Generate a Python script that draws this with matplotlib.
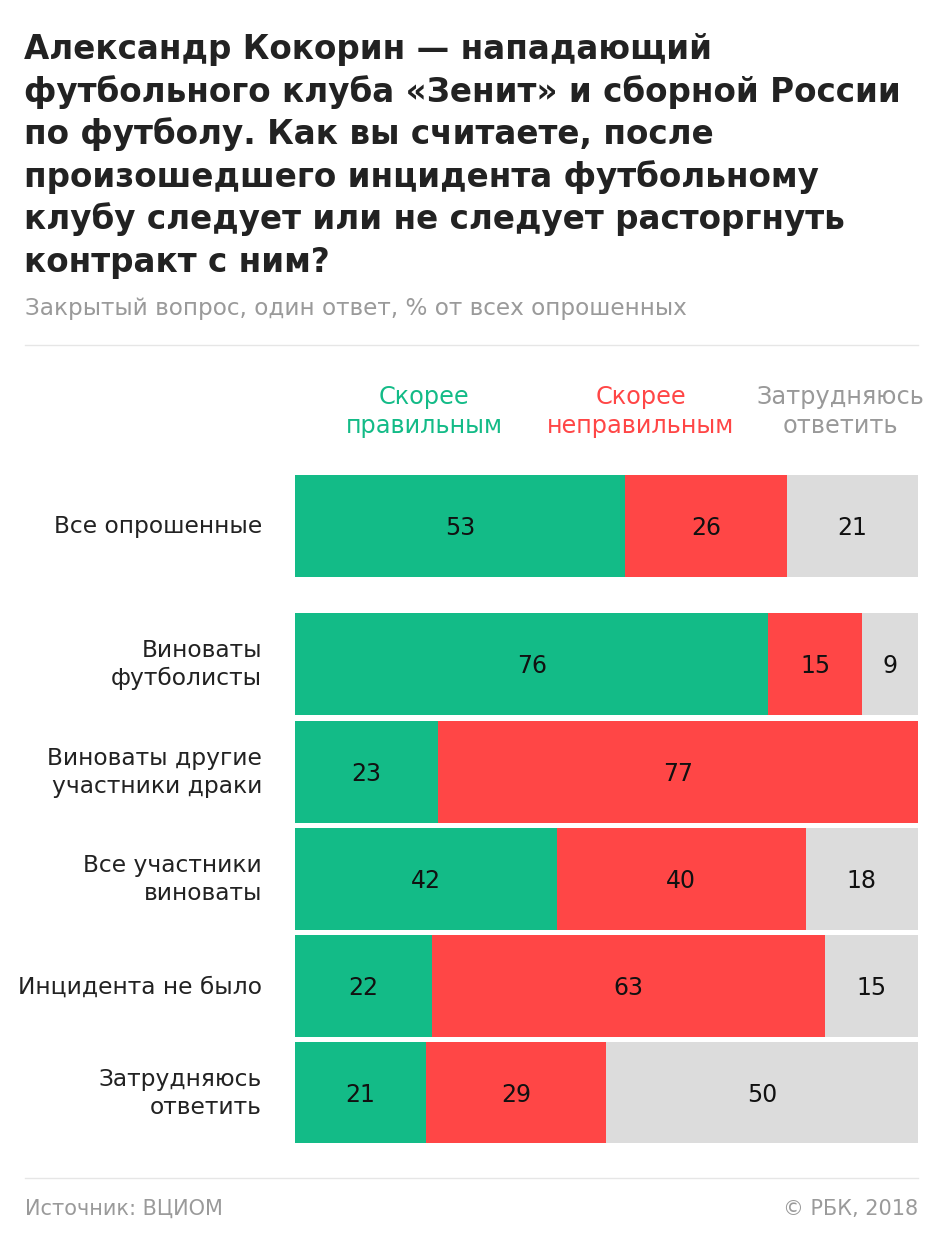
import matplotlib
matplotlib.use("Agg")
import matplotlib.pyplot as plt
import numpy as np

plt.rcParams['font.family'] = ['DejaVu Sans']

categories = ["Все опрошенные", "Виноваты\nфутболисты", "Виноваты другие\nучастники драки",
              "Все участники\nвиноваты", "Инцидента не было", "Затрудняюсь\nответить"]
series_names = ["Скорее\nправильным", "Скорее\nнеправильным", "Затрудняюсь\nответить"]
right_vals = [53, 76, 23, 42, 22, 21]
wrong_vals = [26, 15, 77, 40, 63, 29]
unsure_vals = [21, 9, 0, 18, 15, 50]

colors = ["#13bb87", "#ff4646", "#dcdcdc"]
header_colors = ["#13bb87", "#ff4646", "#999999"]

W, H = 945, 1233
fig = plt.figure(figsize=(W / 100, H / 100), dpi=100)

def fx(px):
    return px / W

def fy(py):
    return 1 - py / H

# axes from px 295..918 horizontally, 474..1143 vertically
ax = fig.add_axes([fx(295), fy(1143), fx(918) - fx(295), (1143 - 474) / H])
ax.set_xlim(0, 100)
ax.set_ylim(1143, 474)
ax.axis('off')

ypos = [526, 664, 772, 879, 986, 1093]
bar_h = 102

series = [right_vals, wrong_vals, unsure_vals]
left = np.zeros(len(categories))
for k, vals in enumerate(series):
    vals = np.array(vals, dtype=float)
    ax.barh(ypos, vals, left=left, height=bar_h, color=colors[k], edgecolor='none')
    for i, v in enumerate(vals):
        if v > 0:
            ax.text(left[i] + v / 2, ypos[i] + 9, f"{int(v)}", ha='center', va='baseline',
                    fontsize=17, color='#111111')
    left += vals

# row labels (right-aligned, per line)
for i, c in enumerate(categories):
    lines = c.split("\n")
    if len(lines) == 1:
        bases = [ypos[i] + 7.5]
    else:
        bases = [ypos[i] - 7, ypos[i] + 21]
    for ln, b in zip(lines, bases):
        fig.text(fx(262), fy(b), ln, ha='right', va='baseline', fontsize=16.8,
                 color='#222222')

# header labels
header_x = [424, 641, 840]
for k, name in enumerate(series_names):
    for ln, b in zip(name.split("\n"), [404, 433]):
        fig.text(fx(header_x[k]), fy(b), ln, ha='center', va='baseline', fontsize=17.3,
                 color=header_colors[k])

# title
title_lines = ["Александр Кокорин — нападающий",
               "футбольного клуба «Зенит» и сборной России",
               "по футболу. Как вы считаете, после",
               "произошедшего инцидента футбольному",
               "клубу следует или не следует расторгнуть",
               "контракт с ним?"]
for j, ln in enumerate(title_lines):
    fig.text(fx(24), fy(59 + 42.6 * j), ln, ha='left', va='baseline', fontsize=23.5,
             fontweight='bold', color='#222222')

fig.text(fx(25), fy(315), "Закрытый вопрос, один ответ, % от всех опрошенных",
         ha='left', va='baseline', fontsize=16.7, color='#9a9a9a')

# separator lines
fig.add_artist(plt.Line2D([fx(25), fx(918)], [fy(345), fy(345)], color='#e6e6e6', lw=1))
fig.add_artist(plt.Line2D([fx(25), fx(918)], [fy(1178), fy(1178)], color='#e6e6e6', lw=1))

fig.text(fx(25), fy(1215), "Источник: ВЦИОМ", ha='left', va='baseline', fontsize=15,
         color='#9a9a9a')
fig.text(fx(918), fy(1215), "© РБК, 2018", ha='right', va='baseline', fontsize=15,
         color='#9a9a9a')

fig.savefig("out.png", dpi=100, facecolor='white')
